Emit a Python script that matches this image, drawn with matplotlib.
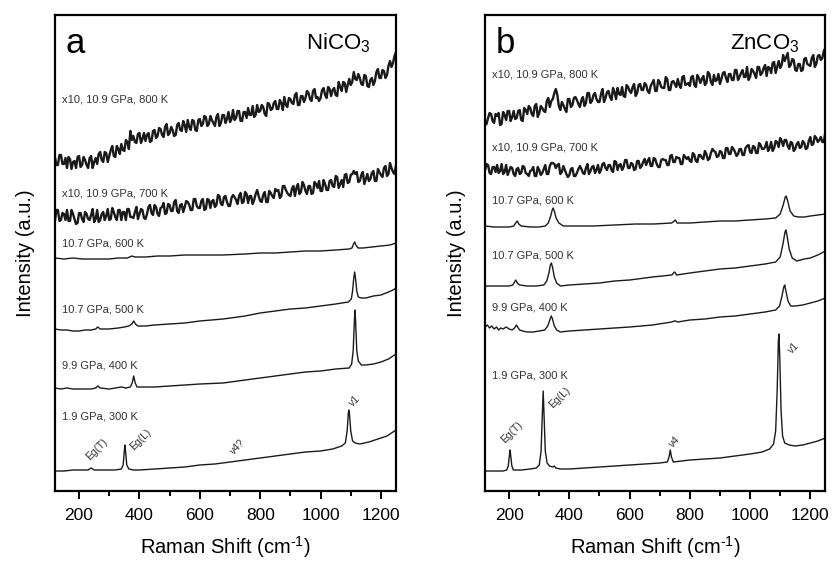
import numpy as np
import matplotlib
matplotlib.use('Agg')
import matplotlib.pyplot as plt

plt.rcParams['font.family'] = ['Liberation Sans', 'DejaVu Sans']
plt.rcParams['mathtext.default'] = 'regular'

# the noisy (x10) spectra: values every 10 cm-1 plus the in-between values (at +5 cm-1)
grid = np.arange(120, 1251, 10)

# ---- NiCO3 (panel a) ----
a_800 = [334, 326, 336, 327, 323, 332, 329, 323, 335, 326,
         331, 323, 335, 329, 327, 339, 329, 338, 335, 345,
         334, 342, 347, 340, 349, 360, 355, 348, 358, 352,
         350, 358, 350, 361, 355, 362, 354, 367, 358, 361,
         356, 368, 360, 366, 371, 361, 370, 360, 372, 367,
         374, 367, 371, 365, 377, 368, 376, 372, 369, 381,
         373, 380, 370, 379, 383, 376, 374, 386, 380, 384,
         375, 387, 382, 390, 382, 388, 394, 384, 392, 387,
         398, 386, 395, 393, 398, 390, 402, 394, 393, 403,
         393, 402, 401, 396, 409, 400, 408, 406, 406, 419,
         411, 413, 406, 415, 404, 413, 410, 422, 413, 420,
         416, 430, 428, 439]
a_800_mid = [326, 336, 327, 333, 334, 322, 330, 334, 324, 334,
             326, 333, 323, 333, 337, 331, 339, 329, 341, 335,
             345, 337, 341, 351, 342, 351, 349, 357, 348, 358,
             356, 349, 360, 353, 363, 356, 364, 356, 364, 355,
             366, 361, 370, 359, 364, 371, 361, 371, 365, 375,
             365, 375, 368, 374, 365, 376, 368, 379, 372, 371,
             380, 370, 379, 373, 376, 385, 376, 379, 386, 377,
             388, 381, 388, 382, 391, 381, 386, 393, 388, 396,
             386, 395, 389, 400, 392, 400, 393, 390, 401, 396,
             404, 395, 403, 395, 404, 409, 399, 412, 409, 412,
             417, 407, 416, 405, 411, 406, 419, 413, 421, 413,
             425, 424, 435]
a_700 = [270, 281, 271, 277, 281, 270, 277, 267, 278, 272,
         279, 272, 276, 269, 281, 271, 279, 275, 271, 283,
         274, 281, 271, 279, 282, 274, 273, 284, 277, 281,
         272, 284, 278, 286, 277, 283, 288, 278, 286, 280,
         291, 278, 287, 284, 289, 281, 292, 285, 283, 292,
         282, 291, 290, 284, 296, 287, 294, 289, 285, 296,
         291, 295, 288, 299, 288, 295, 291, 301, 290, 296,
         289, 300, 295, 302, 301, 295, 305, 298, 295, 305,
         303, 297, 309, 300, 305, 297, 309, 303, 300, 311,
         301, 310, 305, 315, 303, 311, 316, 308, 316, 320,
         319, 310, 319, 312, 310, 318, 310, 322, 316, 323,
         315, 328, 319, 326]
a_700_mid = [281, 270, 278, 271, 270, 281, 272, 268, 278, 269,
             277, 271, 282, 272, 269, 277, 271, 282, 272, 279,
             271, 281, 279, 271, 282, 274, 279, 272, 282, 273,
             277, 286, 276, 284, 275, 284, 277, 287, 280, 289,
             280, 286, 279, 290, 286, 281, 292, 283, 290, 281,
             292, 283, 291, 286, 295, 286, 295, 285, 293, 294,
             287, 298, 289, 297, 295, 287, 297, 295, 289, 299,
             289, 298, 293, 300, 293, 305, 301, 296, 302, 295,
             307, 299, 306, 297, 305, 298, 307, 310, 300, 307,
             301, 311, 304, 314, 307, 304, 317, 309, 317, 317,
             309, 316, 307, 317, 312, 320, 310, 319, 314, 325,
             317, 323, 317]
a_600 = [(120, 233), (150, 232), (180, 233), (210, 232), (240, 232), (270, 232),
         (300, 232), (330, 233), (360, 233), (375, 235), (385, 234), (420, 234),
         (460, 235), (500, 235), (550, 236), (600, 236), (677, 236), (750, 237),
         (800, 238), (850, 238), (900, 239), (950, 240), (1000, 240), (1050, 241),
         (1095, 242), (1104, 243), (1109, 247), (1113, 249), (1117, 246),
         (1124, 243), (1140, 243), (1170, 244), (1200, 245), (1230, 246),
         (1250, 248)]
a_500 = [(120, 162), (140, 161), (160, 161), (180, 160), (200, 160), (220, 161),
         (240, 161), (255, 162), (262, 164), (270, 162), (300, 162), (330, 163),
         (350, 164), (365, 165), (375, 167), (381, 170), (387, 167), (395, 165),
         (420, 165), (450, 166), (500, 167), (550, 168), (600, 170), (677, 172),
         (750, 175), (800, 178), (850, 180), (900, 182), (950, 183), (1000, 185),
         (1050, 187), (1092, 189), (1102, 192), (1106, 200), (1110, 213),
         (1113, 219), (1116, 212), (1120, 200), (1125, 194), (1135, 193),
         (1150, 193), (1175, 195), (1200, 196), (1225, 199), (1240, 201),
         (1250, 203)]
a_400 = [(120, 103), (140, 102), (160, 103), (180, 102), (200, 102), (220, 102),
         (240, 102), (255, 103), (262, 105), (270, 103), (300, 102), (320, 103),
         (340, 104), (355, 103), (370, 104), (376, 108), (381, 115), (386, 108),
         (392, 104), (410, 104), (450, 104), (500, 105), (550, 106), (600, 107),
         (677, 108), (750, 111), (800, 113), (850, 115), (900, 117), (950, 119),
         (1000, 120), (1050, 122), (1095, 123), (1103, 127), (1108, 140),
         (1112, 170), (1114, 181), (1116, 170), (1120, 140), (1125, 130),
         (1135, 126), (1150, 126), (1175, 127), (1200, 129), (1225, 132),
         (1250, 137)]
a_300 = [(120, 20), (150, 20), (180, 21), (210, 21), (230, 21), (240, 23),
         (250, 21), (280, 21), (300, 21), (320, 21), (340, 22), (346, 26),
         (350, 40), (352, 46), (354, 40), (358, 26), (365, 22), (380, 21),
         (400, 21), (450, 22), (500, 23), (550, 24), (600, 26), (650, 27),
         (700, 29), (750, 31), (800, 33), (850, 35), (900, 37), (950, 39),
         (1000, 40), (1040, 42), (1070, 45), (1082, 48), (1088, 60), (1092, 78),
         (1094, 81), (1096, 76), (1100, 60), (1106, 50), (1115, 48), (1130, 47),
         (1160, 49), (1190, 52), (1220, 55), (1250, 61)]

a_labels = ['x10, 10.9 GPa, 800 K', 'x10, 10.9 GPa, 700 K', '10.7 GPa, 600 K',
            '10.7 GPa, 500 K', '9.9 GPa, 400 K', '1.9 GPa, 300 K']
a_label_y = [392, 298, 248, 182, 126, 75]
a_modes = ['Eg(T)', 'Eg(L)', 'v4?', 'v1']
a_mode_x = [258, 403, 727, 1113]
a_mode_y = [42, 52, 44, 90]

# ---- ZnCO3 (panel b) ----
b_800 = [366, 373, 377, 368, 375, 366, 379, 371, 380, 374,
         372, 380, 371, 383, 377, 383, 375, 387, 378, 383,
         379, 393, 390, 398, 396, 381, 386, 379, 392, 386,
         394, 387, 391, 385, 398, 388, 396, 392, 389, 402,
         393, 400, 391, 399, 403, 396, 395, 406, 400, 404,
         395, 406, 401, 408, 400, 405, 411, 400, 409, 403,
         414, 401, 409, 407, 412, 403, 415, 407, 405, 415,
         404, 413, 412, 406, 419, 409, 416, 411, 407, 418,
         413, 417, 411, 421, 411, 418, 414, 424, 414, 420,
         413, 424, 418, 426, 424, 418, 429, 424, 423, 436,
         434, 424, 432, 421, 427, 420, 432, 427, 425, 436,
         427, 436, 433, 443]
b_800_mid = [367, 378, 370, 377, 378, 367, 376, 380, 370, 380,
             373, 381, 370, 381, 385, 377, 385, 374, 385, 380,
             390, 384, 392, 402, 385, 389, 382, 392, 384, 393,
             391, 384, 394, 388, 398, 390, 398, 389, 397, 389,
             399, 394, 403, 392, 397, 404, 394, 404, 398, 407,
             398, 407, 401, 406, 398, 408, 400, 411, 404, 403,
             412, 401, 410, 404, 406, 414, 406, 408, 414, 406,
             416, 408, 415, 408, 417, 406, 410, 417, 412, 419,
             409, 417, 411, 421, 414, 421, 414, 411, 422, 417,
             424, 416, 423, 415, 423, 428, 418, 430, 426, 430,
             438, 426, 431, 420, 427, 421, 433, 426, 433, 424,
             435, 431, 440]
b_700 = [321, 326, 317, 324, 326, 320, 317, 326, 320, 323,
         315, 323, 318, 324, 317, 320, 324, 315, 321, 318,
         326, 317, 328, 327, 326, 317, 325, 317, 316, 323,
         315, 322, 322, 317, 327, 320, 325, 321, 318, 327,
         323, 326, 321, 330, 321, 327, 324, 331, 323, 327,
         322, 330, 325, 332, 330, 325, 333, 327, 324, 332,
         331, 326, 336, 329, 333, 327, 336, 332, 330, 338,
         330, 336, 333, 340, 331, 338, 340, 334, 340, 333,
         343, 337, 344, 339, 337, 342, 336, 345, 339, 345,
         338, 348, 342, 344, 340, 349, 343, 349, 353, 345,
         351, 342, 348, 342, 349, 344, 348, 343, 354, 347,
         353, 351, 349, 359]
b_700_mid = [327, 318, 324, 319, 318, 327, 319, 316, 324, 317,
             322, 317, 325, 318, 315, 321, 315, 324, 316, 322,
             317, 325, 328, 323, 327, 319, 321, 314, 322, 315,
             318, 325, 318, 323, 317, 324, 318, 326, 321, 328,
             321, 326, 319, 329, 326, 321, 331, 323, 328, 321,
             330, 323, 329, 326, 333, 325, 332, 324, 331, 331,
             326, 335, 329, 334, 333, 327, 334, 334, 329, 336,
             329, 336, 332, 337, 332, 342, 339, 335, 339, 333,
             343, 337, 342, 335, 342, 336, 343, 346, 338, 344,
             338, 346, 342, 349, 343, 340, 350, 344, 350, 351,
             345, 349, 340, 347, 343, 350, 342, 350, 346, 355,
             349, 354, 349]
b_600 = [(120, 265), (150, 264), (180, 264), (200, 264), (215, 265), (222, 268),
         (227, 270), (232, 267), (240, 265), (270, 264), (300, 264), (320, 265),
         (330, 268), (338, 275), (343, 281), (346, 283), (350, 280), (356, 273),
         (365, 268), (380, 265), (420, 265), (480, 265), (550, 266), (620, 267),
         (680, 267), (740, 268), (748, 270), (752, 271), (758, 268), (800, 268),
         (850, 269), (900, 270), (950, 270), (1000, 271), (1050, 272),
         (1085, 273), (1100, 277), (1110, 286), (1117, 294), (1120, 295),
         (1125, 290), (1133, 280), (1145, 275), (1160, 274), (1180, 274),
         (1200, 275), (1225, 276), (1250, 277)]
b_500 = [(120, 205), (150, 205), (180, 205), (200, 205), (212, 206), (218, 209),
         (222, 211), (227, 208), (235, 206), (260, 205), (290, 205), (315, 206),
         (325, 210), (332, 218), (337, 226), (340, 228), (344, 224), (350, 214),
         (358, 208), (370, 205), (400, 206), (450, 207), (500, 208), (550, 210),
         (600, 211), (676, 214), (740, 216), (746, 218), (750, 219), (756, 216),
         (800, 218), (850, 220), (900, 222), (950, 223), (1000, 225),
         (1050, 227), (1085, 229), (1100, 234), (1110, 248), (1116, 259),
         (1119, 261), (1123, 255), (1130, 242), (1140, 233), (1155, 230),
         (1180, 232), (1200, 233), (1225, 236), (1250, 240)]
b_400 = [(120, 164), (128, 166), (135, 163), (142, 165), (150, 162), (158, 164),
         (165, 161), (172, 163), (180, 162), (190, 164), (200, 162), (210, 161),
         (218, 163), (224, 166), (228, 164), (235, 161), (245, 160), (260, 159),
         (280, 159), (300, 160), (318, 161), (328, 165), (335, 171), (340, 175),
         (344, 172), (350, 165), (358, 161), (370, 159), (400, 160), (450, 161),
         (500, 162), (550, 163), (600, 164), (676, 166), (740, 169), (748, 170),
         (752, 170), (760, 169), (800, 171), (850, 172), (900, 174), (950, 175),
         (1000, 177), (1050, 179), (1085, 181), (1098, 185), (1106, 195),
         (1112, 204), (1115, 206), (1119, 200), (1126, 190), (1135, 185),
         (1150, 185), (1175, 186), (1200, 188), (1225, 190), (1250, 193)]
b_300 = [(120, 20), (150, 20), (180, 20), (192, 21), (197, 25), (201, 36),
         (203, 41), (205, 36), (209, 25), (214, 21), (240, 21), (270, 22),
         (290, 23), (300, 26), (306, 40), (310, 75), (313, 100), (316, 75),
         (320, 40), (326, 28), (334, 25), (345, 24), (350, 25), (355, 23),
         (370, 22), (400, 22), (450, 23), (500, 24), (550, 25), (600, 26),
         (650, 27), (700, 28), (725, 29), (731, 34), (735, 41), (739, 34),
         (745, 29), (800, 31), (850, 32), (900, 33), (950, 35), (1000, 37),
         (1040, 39), (1065, 42), (1078, 47), (1085, 60), (1090, 100),
         (1094, 150), (1096, 157), (1099, 130), (1103, 80), (1108, 55),
         (1115, 48), (1130, 46), (1150, 45), (1175, 46), (1200, 48),
         (1225, 50), (1250, 53)]

b_labels = a_labels
b_label_y = [416, 344, 291, 236, 184, 116]
b_modes = ['Eg(T)', 'Eg(L)', 'v4', 'v1']
b_mode_x = [210, 369, 749, 1144]
b_mode_y = [59, 94, 49, 143]


def interleave(main, mid):
    # put the in-between values back between the 10 cm-1 ones
    xs = np.empty(2 * len(grid) - 1)
    ys = np.empty(2 * len(grid) - 1)
    xs[0::2] = grid
    xs[1::2] = grid[:-1] + 5
    ys[0::2] = main
    ys[1::2] = mid
    return xs, ys


def draw_panel(ax, noisy, smooth, labels, label_y, modes, mode_x, mode_y, letter, compound):
    for main, mid in noisy:
        xs, ys = interleave(main, mid)
        ax.plot(xs, ys, color='#1a1a1a', lw=1.7)
    for pts in smooth:
        xs, ys = zip(*pts)
        ax.plot(xs, ys, color='#1a1a1a', lw=1.0)
    for txt, y in zip(labels, label_y):
        ax.text(142, y, txt, fontsize=8, color='#333333', va='center', ha='left')
    for txt, x, y in zip(modes, mode_x, mode_y):
        ax.text(x, y, txt, fontsize=7.5, color='#333333', rotation=45,
                ha='center', va='center')
    ax.text(0.03, 0.94, letter, transform=ax.transAxes, fontsize=25, va='center')
    ax.text(0.925, 0.94, compound, transform=ax.transAxes, fontsize=16,
            va='center', ha='right')

    ax.set_xlim(120, 1250)
    ax.set_ylim(0, 476)
    ax.set_xticks([200, 400, 600, 800, 1000, 1200])
    ax.set_xticks([300, 500, 700, 900, 1100], minor=True)
    ax.set_yticks([])
    ax.tick_params(axis='x', which='major', direction='out', length=6, width=1.4,
                   labelsize=12.5, pad=6)
    ax.tick_params(axis='x', which='minor', direction='out', length=3.5, width=1.4)
    for s in ax.spines.values():
        s.set_linewidth(1.6)
    ax.set_xlabel('Raman Shift (cm$^{\u2010 1}$)', fontsize=14.5, labelpad=8)
    ax.set_ylabel('Intensity (a.u.)', fontsize=14.5, labelpad=14)


fig = plt.figure(figsize=(8.32, 5.66), dpi=100)
ax1 = fig.add_axes([0.066, 0.1325, 0.41, 0.841])
ax2 = fig.add_axes([0.583, 0.1325, 0.409, 0.841])

draw_panel(ax1, [(a_800, a_800_mid), (a_700, a_700_mid)], [a_600, a_500, a_400, a_300],
           a_labels, a_label_y, a_modes, a_mode_x, a_mode_y, 'a', 'NiCO$_3$')
draw_panel(ax2, [(b_800, b_800_mid), (b_700, b_700_mid)], [b_600, b_500, b_400, b_300],
           b_labels, b_label_y, b_modes, b_mode_x, b_mode_y, 'b', 'ZnCO$_3$')

fig.savefig('out.png', dpi=100)
